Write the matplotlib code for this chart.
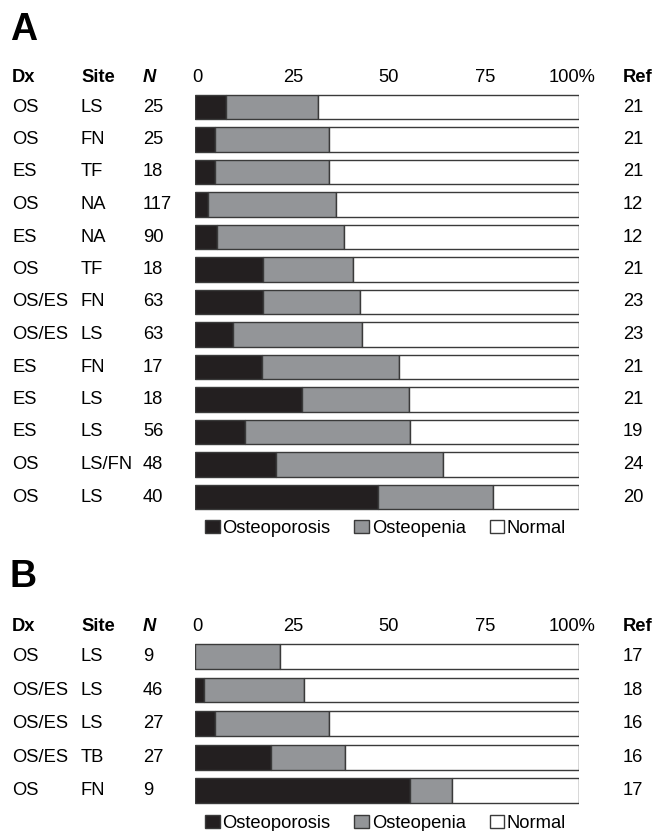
import matplotlib.pyplot as plt
import matplotlib.transforms as mtrans
from matplotlib.patches import Patch

# panel A
dx_a = ['OS', 'OS', 'ES', 'OS', 'ES', 'OS', 'OS/ES', 'OS/ES', 'ES', 'ES', 'ES', 'OS', 'OS']
site_a = ['LS', 'FN', 'TF', 'NA', 'NA', 'TF', 'FN', 'LS', 'FN', 'LS', 'LS', 'LS/FN', 'LS']
n_a = [25, 25, 18, 117, 90, 18, 63, 63, 17, 18, 56, 48, 40]
ref_a = [21, 21, 21, 12, 12, 21, 23, 23, 21, 21, 19, 24, 20]
osteoporosis_a = [8.0, 5.2, 5.2, 3.5, 5.6, 17.7, 17.6, 9.8, 17.5, 27.9, 13.1, 21.0, 47.7]
osteopenia_a = [24.1, 29.8, 29.8, 33.2, 33.3, 23.5, 25.3, 33.8, 35.7, 27.7, 42.8, 43.6, 29.8]

# panel B
dx_b = ['OS', 'OS/ES', 'OS/ES', 'OS/ES', 'OS']
site_b = ['LS', 'LS', 'LS', 'TB', 'FN']
n_b = [9, 46, 27, 27, 9]
ref_b = [17, 18, 16, 16, 17]
osteoporosis_b = [0.0, 2.3, 5.2, 19.8, 56.1]
osteopenia_b = [22.1, 26.1, 29.8, 19.2, 10.9]

ticks = [0, 25, 50, 75, 100]
tick_labels = ['0', '25', '50', '75', '100%']

BLACK = '#231f20'
GRAY = '#939598'
EDGE = '#3a3a3a'
FS = 13.2
W, H = 657, 831

plt.rcParams['font.family'] = ['Liberation Sans', 'DejaVu Sans']

fig = plt.figure(figsize=(W / 100, H / 100), dpi=100)


def draw_panel(ax, letter, dx, site, n, ref, por, pen):
    rows = list(range(len(dx)))
    normal = [100 - a - b for a, b in zip(por, pen)]
    left2 = por
    left3 = [a + b for a, b in zip(por, pen)]
    kw = dict(height=0.74, edgecolor=EDGE, linewidth=1.0)
    ax.barh(rows, por, color=BLACK, **kw)
    ax.barh(rows, pen, left=left2, color=GRAY, **kw)
    ax.barh(rows, normal, left=left3, color='white', **kw)
    ax.set_xlim(0, 100)
    ax.set_ylim(len(dx) - 0.5, -0.5)
    ax.axis('off')

    tr = mtrans.blended_transform_factory(fig.transFigure, ax.transData)
    cols = [12 / W, 81 / W, 143 / W, 623 / W]
    hdr = -0.9
    ax.text(cols[0], hdr, 'Dx', transform=tr, fontsize=FS, fontweight='bold', va='center')
    ax.text(cols[1], hdr, 'Site', transform=tr, fontsize=FS, fontweight='bold', va='center')
    ax.text(cols[2], hdr, 'N', transform=tr, fontsize=FS, fontweight='bold',
            style='italic', va='center')
    ax.text(cols[3], hdr, 'Ref', transform=tr, fontsize=FS, fontweight='bold', va='center')
    ax.text(cols[0] - 2 / W, -2.37, letter, transform=tr, fontsize=27,
            fontweight='bold', va='center')
    for i in rows:
        ax.text(cols[0], i, dx[i], transform=tr, fontsize=FS, va='center')
        ax.text(cols[1], i, site[i], transform=tr, fontsize=FS, va='center')
        ax.text(cols[2], i, str(n[i]), transform=tr, fontsize=FS, va='center')
        ax.text(cols[3], i, str(ref[i]), transform=tr, fontsize=FS, va='center')

    for t, lab in zip(ticks, tick_labels):
        dxo = -7 if lab.endswith('%') else 2
        trans = mtrans.offset_copy(ax.transData, fig=fig, x=dxo, y=0, units='dots')
        ax.text(t, hdr, lab, transform=trans, fontsize=FS, ha='center', va='center')

    handles = [Patch(facecolor=BLACK, edgecolor=EDGE, label='Osteoporosis'),
               Patch(facecolor=GRAY, edgecolor=EDGE, label='Osteopenia'),
               Patch(facecolor='white', edgecolor=EDGE, label='Normal')]
    ax.legend(handles=handles, ncol=3, frameon=False, fontsize=FS,
              loc='center left', bbox_to_anchor=(205 / W, len(dx) - 0.03),
              bbox_transform=tr, borderpad=0, borderaxespad=0,
              handlelength=0.8, handleheight=0.7, handletextpad=0.15,
              columnspacing=1.3)


# axes placed in pixel terms: A rows 107..497 px, B rows 656..791 px
ax_a = fig.add_axes([195 / W, 1 - 513.25 / H, 384 / W, 422.5 / H])
ax_b = fig.add_axes([195 / W, 1 - 807.6 / H, 384 / W, 167.9 / H])

draw_panel(ax_a, 'A', dx_a, site_a, n_a, ref_a, osteoporosis_a, osteopenia_a)
draw_panel(ax_b, 'B', dx_b, site_b, n_b, ref_b, osteoporosis_b, osteopenia_b)

fig.savefig('out.png', dpi=100, facecolor='white')
